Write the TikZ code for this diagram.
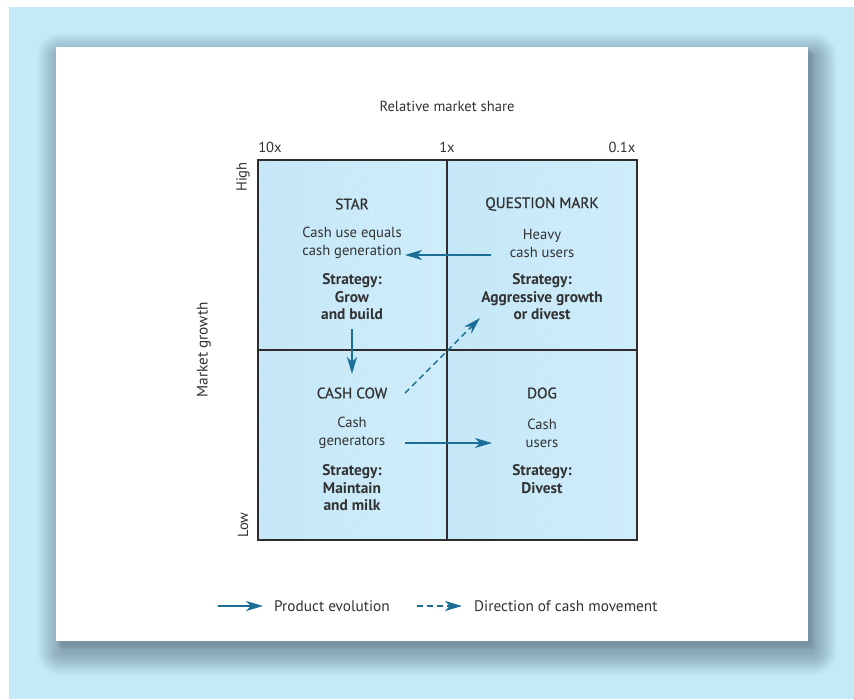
\documentclass[tikz,border=0pt]{standalone}
\usepackage{fontspec}
\setmainfont{PT Sans}
\newfontfamily\medfont[FakeBold=0.8]{PT Sans}
\usetikzlibrary{arrows.meta}
\definecolor{bgblue}{RGB}{198,233,248}
\definecolor{shadowc}{RGB}{60,82,94}
\definecolor{txt}{RGB}{50,50,50}
\definecolor{gridc}{RGB}{45,45,45}
\definecolor{arr}{RGB}{27,110,150}
\definecolor{qdark}{RGB}{194,230,247}
\definecolor{qlight}{RGB}{204,236,250}
\tikzset{
  lbl/.style={font=\fontsize{14.6}{18}\selectfont, text=txt, inner sep=0pt, align=center},
  legtxt/.style={lbl, font=\fontsize{15.3}{18}\selectfont},
  ttl/.style={lbl, font=\fontsize{15.2}{18}\selectfont\medfont},
  strat/.style={lbl, font=\fontsize{15.4}{17.5}\selectfont\bfseries},
  evo/.style={draw=arr, line width=1.4pt, -{Stealth[length=17pt,width=10pt,inset=5pt]}},
  cash/.style={evo, dash pattern=on 6pt off 4pt},
}
\begin{document}
\begin{tikzpicture}[x=1pt,y=-1pt]
\useasboundingbox (0,0) rectangle (854,699);
% outer background
\fill[bgblue] (9,7) rectangle (854,699);
% soft shadow
\foreach \k in {1,2,...,24} {
  \fill[shadowc, opacity=0.021, rounded corners=\k pt] (56-\k+5, 47-\k+10) rectangle (808+\k+5, 641+\k+10);
}
\foreach \k in {1,2,...,6} {
  \fill[shadowc, opacity=0.04] (56+\k, 47+\k) rectangle (808+\k+1, 641+\k+3);
}
% card
\fill[white] (56,47) rectangle (808,641);
% quadrants fill
\foreach \qx/\qy in {258/160, 447/160, 258/350, 447/350} {
  \shade[left color=qdark, right color=qlight] (\qx,\qy) rectangle (\qx+190,\qy+190);
}
\begin{scope}
  \clip (258,160) rectangle (637,540);
  \foreach \i in {-380,-377,...,380} {
    \draw[white, opacity=0.2, line width=0.6pt] (258+\i,540) -- (258+\i+380,160);
  }
\end{scope}
% grid
\draw[gridc, line width=1.3pt] (258,160) rectangle (637,540);
\draw[gridc, line width=1.3pt] (447,160) -- (447,540);
\draw[gridc, line width=1.3pt] (258,350) -- (637,350);
% axis labels
\node[lbl] (axisx) at (447,106) {Relative market share};
\node[lbl] (s10) at (270,147) {10x};
\node[lbl] (s1) at (447,147) {1x};
\node[lbl] (s01) at (622,147) {0.1x};
\node[lbl, rotate=90] (high) at (243,177) {High};
\node[lbl, rotate=90] (low) at (243,525) {Low};
\node[legtxt, rotate=90] (axisy) at (204,350) {Market growth};
% quadrant texts
\node[ttl] (starT) at (352,204) {STAR};
\node[lbl] (starD) at (352,243) {Cash use equals\\cash generation};
\node[strat] (starS) at (352,297) {Strategy:\\Grow\\and build};
\node[ttl] (qmT) at (542,204) {QUESTION MARK};
\node[lbl] (qmD) at (542,243) {Heavy\\cash users};
\node[strat] (qmS) at (542,297) {Strategy:\\Aggressive growth\\or divest};
\node[ttl] (cowT) at (352,393) {CASH COW};
\node[lbl] (cowD) at (352,433) {Cash\\generators};
\node[strat] (cowS) at (352,488) {Strategy:\\Maintain\\and milk};
\node[ttl] (dogT) at (542,393) {DOG};
\node[lbl] (dogD) at (542,433) {Cash\\users};
\node[strat] (dogS) at (542,479) {Strategy:\\Divest};
% arrows
\coordinate (a1s) at (491,255);
\coordinate (a1e) at (405,255);
\coordinate (a2s) at (352,329);
\coordinate (a2e) at (352,374);
\coordinate (a3s) at (405,393);
\coordinate (a3e) at (480,318);
\coordinate (a4s) at (405,443);
\coordinate (a4e) at (492,443);
\draw[evo] (a1s) -- (a1e);
\draw[evo] (a2s) -- (a2e);
\draw[cash] (a3s) -- (a3e);
\draw[evo] (a4s) -- (a4e);
% legend
\coordinate (l1s) at (218,606);
\coordinate (l1e) at (263,606);
\coordinate (l2s) at (417,606);
\coordinate (l2e) at (462,606);
\draw[evo] (l1s) -- (l1e);
\draw[cash] (l2s) -- (l2e);
\node[legtxt, anchor=west] (leg1) at (274,606) {Product evolution};
\node[legtxt, anchor=west] (leg2) at (474,606) {Direction of cash movement};
\end{tikzpicture}
\end{document}
